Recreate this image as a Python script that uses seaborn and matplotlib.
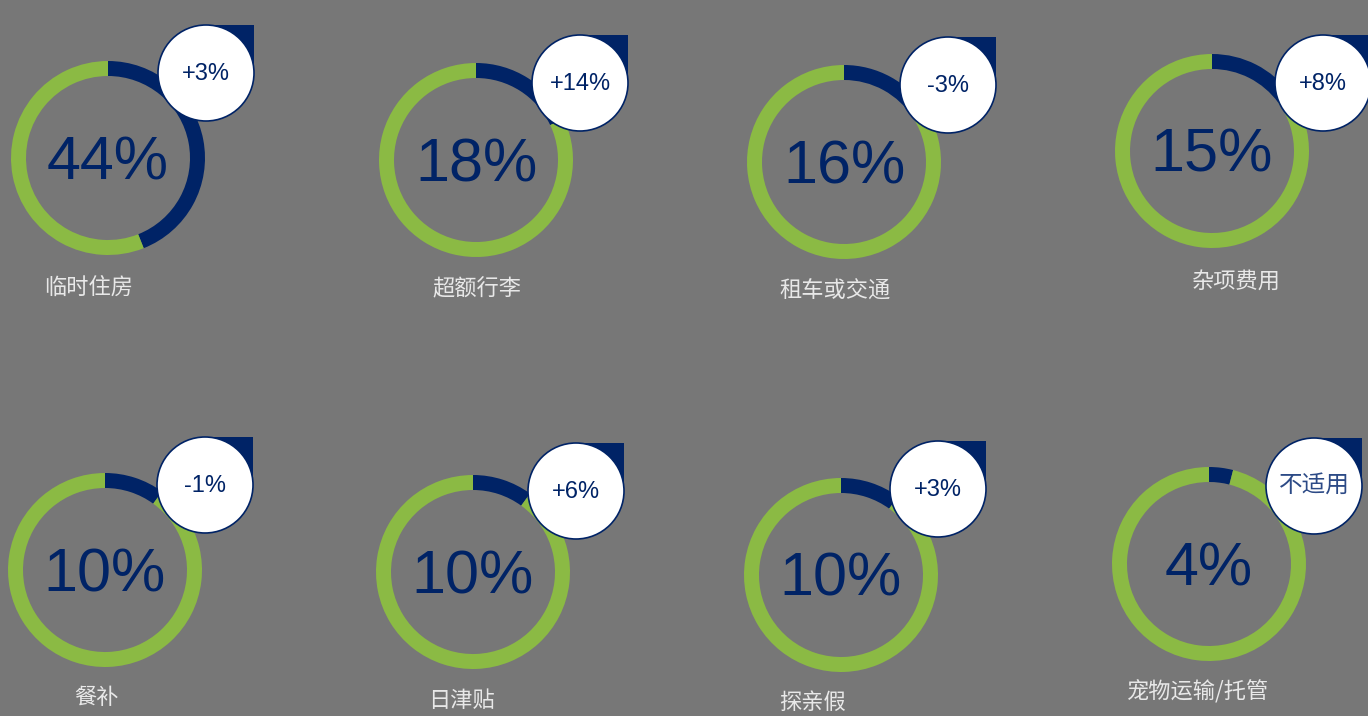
"""
Donut tiles: share of each relocation benefit, with year-over-year change bubble
"""
import matplotlib
matplotlib.use("Agg")
import matplotlib.pyplot as plt
from matplotlib.patches import Circle, Rectangle
import seaborn as sns

# data
categories = ['临时住房', '超额行李', '租车或交通', '杂项费用',
              '餐补', '日津贴', '探亲假', '宠物运输/托管']
shares = [44, 18, 16, 15, 10, 10, 10, 4]
changes = ['+3%', '+14%', '-3%', '+8%', '-1%', '+6%', '+3%', '不适用']

# layout in image pixels (x, y from top)
donut_centers = [(108, 158), (476, 160), (844, 162), (1212, 151),
                 (105, 570), (473, 572), (841, 575), (1209, 564)]
bubble_centers = [(206, 73), (580, 83), (948, 85), (1323, 83),
                  (205, 485), (576, 491), (938, 489), (1314, 486)]
label_centers = [(89, 287), (477, 289), (835, 291), (1236, 281),
                 (96, 698), (461, 700), (812, 702), (1198, 692)]

BG = '#777777'
GREEN = '#8bba44'
NAVY = '#002366'
W, H = 1368, 716
R_OUT, RING = 97, 15
R_BUB = 48

sns.set_theme(style='white', rc={'figure.facecolor': BG, 'axes.facecolor': BG})
plt.rcParams['font.family'] = ['Liberation Sans', 'Noto Sans CJK SC', 'DejaVu Sans']
CJK = ['Noto Sans CJK SC', 'DejaVu Sans']

fig = plt.figure(figsize=(W / 100, H / 100), dpi=100)
ax = fig.add_axes([0, 0, 1, 1])

for i, cat in enumerate(categories):
    cx, cy = donut_centers[i]
    cy = H - cy
    ax.pie([shares[i], 100 - shares[i]], center=(cx, cy), radius=R_OUT,
           startangle=90, counterclock=False, colors=[NAVY, GREEN],
           wedgeprops=dict(width=RING, linewidth=0))
    # baseline placed so digit caps sit centred in the ring
    ax.text(cx, cy - 21, f'{shares[i]}%', ha='center', va='baseline',
            fontsize=44, color=NAVY)

    # change bubble: circle with a square top-right corner
    bx, by = bubble_centers[i]
    by = H - by
    ax.add_patch(Rectangle((bx, by), R_BUB, R_BUB, facecolor=NAVY,
                           edgecolor='none', zorder=5))
    ax.add_patch(Circle((bx, by), R_BUB, facecolor='white', edgecolor=NAVY,
                        linewidth=1.2, zorder=6))
    if changes[i] == '不适用':
        ax.text(bx, by + 1, changes[i], ha='center', va='center', fontsize=17,
                color='#2c4a86', zorder=7, family=CJK, fontweight='light')
    else:
        ax.text(bx, by - 7, changes[i], ha='center', va='baseline',
                fontsize=17, color=NAVY, zorder=7)

    lx, ly = label_centers[i]
    ax.text(lx, H - ly, cat, ha='center', va='center', fontsize=16,
            color='#e8e8e8', family=CJK, fontweight='light')

ax.set_xlim(0, W)
ax.set_ylim(0, H)
ax.set_aspect('equal')
ax.axis('off')

fig.savefig('out.png', dpi=100, facecolor=BG)
